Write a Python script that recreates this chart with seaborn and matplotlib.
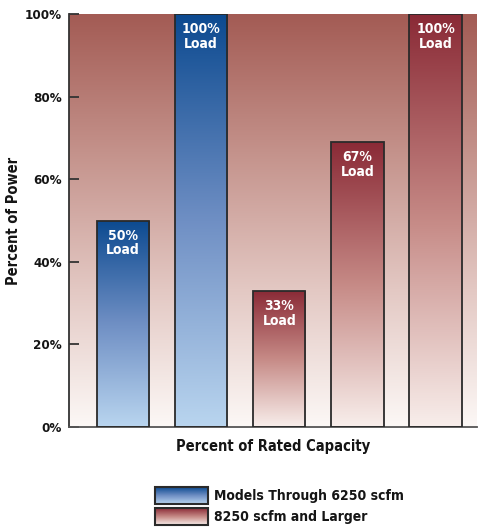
import numpy as np
import pandas as pd
import matplotlib
matplotlib.use("Agg")
import matplotlib.pyplot as plt
from matplotlib.colors import LinearSegmentedColormap
from matplotlib.patches import Rectangle
import seaborn as sns

sns.set_style("ticks")
plt.rcParams['font.family'] = ['DejaVu Sans']
plt.rcParams['font.stretch'] = 'condensed'
plt.rcParams['font.weight'] = 'bold'
plt.rcParams['text.color'] = '#151515'
plt.rcParams['axes.labelcolor'] = '#151515'
plt.rcParams['ytick.labelcolor'] = '#151515'

# data
slots = [0, 1, 2, 3, 4]
power = [50, 100, 33, 69, 100]
bar_labels = ["50%\nLoad", "100%\nLoad", "33%\nLoad", "67%\nLoad", "100%\nLoad"]
series = ["Models Through 6250 scfm", "Models Through 6250 scfm",
          "8250 scfm and Larger", "8250 scfm and Larger", "8250 scfm and Larger"]
series_names = ["Models Through 6250 scfm", "8250 scfm and Larger"]
yticks = [0, 20, 40, 60, 80, 100]

df = pd.DataFrame({"slot": slots, "power": power, "series": series})

blue_cmap = LinearSegmentedColormap.from_list("b", ["#b9d5ef", "#6f8fc4", "#0c4a90"])
red_cmap = LinearSegmentedColormap.from_list("r", ["#f8eeeb", "#c68a86", "#8a2a36"])
bg_cmap = LinearSegmentedColormap.from_list("bg", ["#fcf8f6", "#e3c8c3", "#c4928b", "#a35b54"])
cmaps = {series_names[0]: blue_cmap, series_names[1]: red_cmap}

fig = plt.figure(figsize=(4.79, 5.31), dpi=100)
ax = fig.add_axes([69 / 479, 1 - 427 / 531, 408 / 479, 413 / 531])

sns.barplot(data=df, x="slot", y="power", hue="series", dodge=False, width=0.67,
            palette={series_names[0]: "#3a5fa0", series_names[1]: "#9a3a40"},
            edgecolor="#2a2a2a", linewidth=1.3, legend=False, ax=ax, zorder=3)

ax.set_xlim(-0.69, 4.53)
ax.set_ylim(0, 100)

# background gradient
grad = np.linspace(0, 1, 256).reshape(-1, 1)
ax.imshow(grad, extent=[-0.69, 4.53, 0, 100], origin="lower", cmap=bg_cmap,
          aspect="auto", zorder=0)

# gradient fill for each bar
for patch in ax.patches:
    h = patch.get_height()
    if h <= 0:
        continue
    x0 = patch.get_x()
    w = patch.get_width()
    xc = x0 + w / 2
    i = int(round(xc))
    cmap = cmaps[series[i]]
    img = ax.imshow(grad, extent=[x0, x0 + w, 0, h], origin="lower", cmap=cmap,
                    aspect="auto", zorder=2)
    img.set_clip_path(patch)
    patch.set_facecolor("none")
    ax.text(xc, h - 2.0, bar_labels[i], ha="center", va="top", color="white",
            fontsize=10, fontweight="bold", linespacing=1.05, zorder=4)

ax.set_xlim(-0.69, 4.53)
ax.set_ylim(0, 100)
ax.set_xticks([])
ax.set_yticks(yticks)
ax.set_yticklabels([f"{t}%" for t in yticks], fontsize=9.5, fontweight="bold")
ax.tick_params(axis="y", direction="in", length=7, width=1.3, color="#333333", pad=5)
ax.set_xlabel("Percent of Rated Capacity", fontsize=10.5, fontweight="bold")
ax.set_ylabel("Percent of Power", fontsize=10.5, fontweight="bold")
ax.xaxis.set_label_coords(0.5, -0.028)
ax.yaxis.set_label_coords(-0.118, 0.5)
for s in ["top", "right"]:
    ax.spines[s].set_visible(False)
ax.spines["left"].set_color("#333333")
ax.spines["left"].set_linewidth(1.3)
ax.spines["bottom"].set_color("#555555")
ax.spines["bottom"].set_linewidth(1.3)

# legend with gradient swatches
for k, name in enumerate(series_names):
    top = 487 + k * 21
    lax = fig.add_axes([155 / 479, 1 - (top + 17) / 531, 53 / 479, 17 / 531])
    lax.imshow(grad, extent=[0, 1, 0, 1], origin="lower", cmap=cmaps[name], aspect="auto")
    lax.add_patch(Rectangle((0, 0), 1, 1, fill=False, edgecolor="#2a2a2a", linewidth=1.5,
                            transform=lax.transAxes, clip_on=False))
    lax.set_axis_off()
    fig.text(214 / 479, 1 - (top + 9) / 531, name, ha="left", va="center",
             fontsize=10, fontweight="bold", color="#151515")

fig.savefig("out.png", dpi=100)
